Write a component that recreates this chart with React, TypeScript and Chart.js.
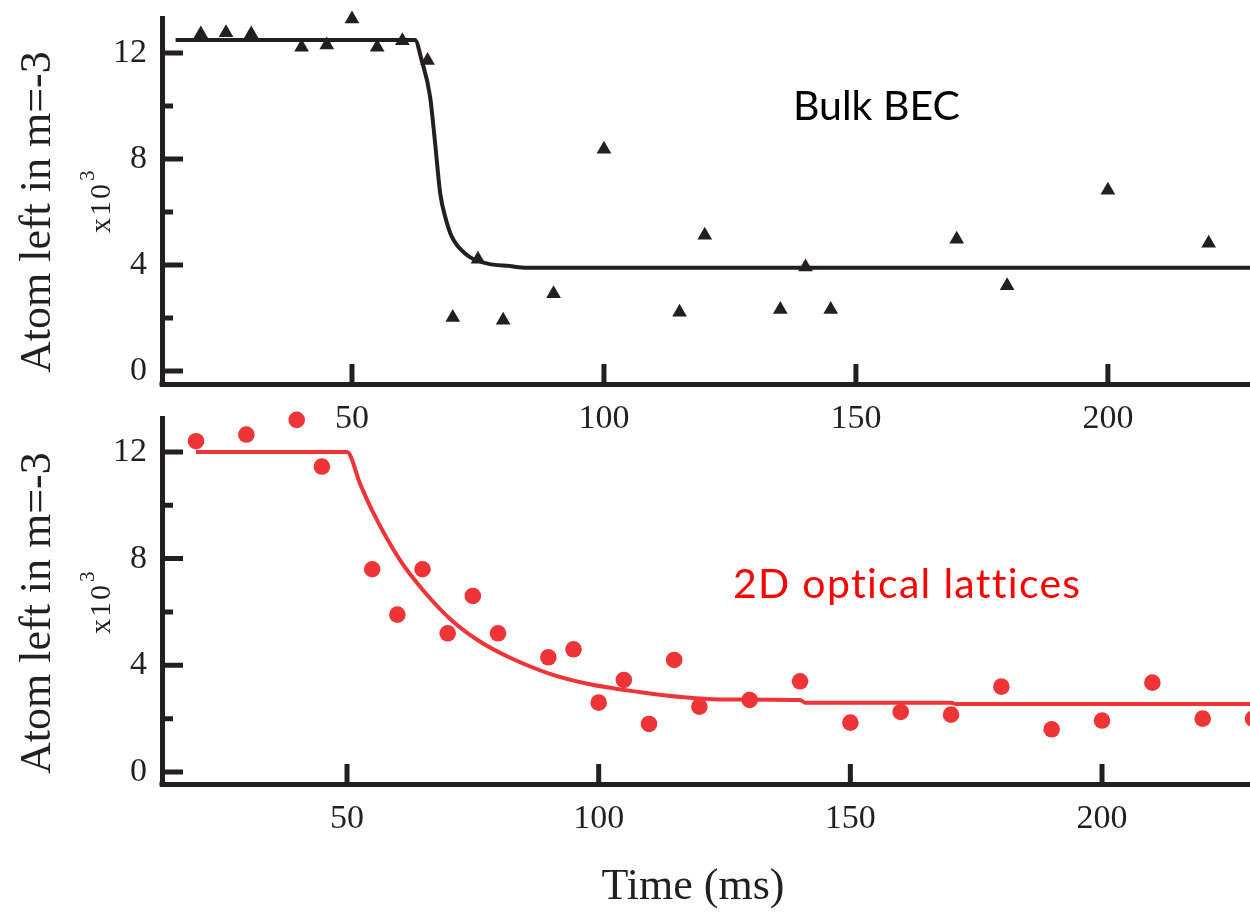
import { useEffect, useRef } from "react";
import { Chart, registerables } from "chart.js";

Chart.register(...registerables);

// ---------------- data ----------------
const xTickValues = [50, 100, 150, 200];
const yMajorTickValues = [0, 4, 8, 12];
const yMinorTickValues = [2, 6, 10];

const bulkTime = [20, 25, 30, 40, 45, 50, 55, 60, 65, 70, 75, 80, 90, 100, 115, 120, 135, 140, 145, 170, 180, 200, 220];
const bulkAtoms = [12.72, 12.76, 12.72, 12.22, 12.3, 13.28, 12.22, 12.46, 11.72, 2.02, 4.22, 1.92, 2.92, 8.37, 2.22, 5.12, 2.32, 3.92, 2.32, 4.97, 3.22, 6.82, 4.82];
const bulkFitTime = [15, 62.5, 63.8, 65.5, 66.5, 67.5, 68.5, 69.8, 72.8, 76.7, 81.3, 84.7, 235];
const bulkFitAtoms = [12.49, 12.49, 11.74, 10.35, 8.59, 6.71, 5.82, 5.07, 4.38, 4.06, 3.96, 3.9, 3.9];

const latticeTime = [20, 30, 40, 45, 55, 60, 65, 70, 75, 80, 90, 95, 100, 105, 110, 115, 120, 130, 140, 150, 160, 170, 180, 190, 200, 210, 220, 230];
const latticeAtoms = [12.4, 12.65, 13.2, 11.45, 7.6, 5.9, 7.6, 5.2, 6.6, 5.2, 4.3, 4.6, 2.6, 3.45, 1.8, 4.2, 2.45, 2.7, 3.4, 1.85, 2.25, 2.15, 3.2, 1.6, 1.93, 3.35, 2.0, 2.0];
const latticeFitTime = [20, 50, 52.6, 55, 60.5, 65.4, 71, 76.3, 82.2, 90, 98, 108, 117, 124, 140, 141, 170, 171, 235];
const latticeFitAtoms = [12, 12, 10.8, 9.8, 7.95, 6.75, 5.65, 4.9, 4.3, 3.7, 3.3, 3.0, 2.8, 2.72, 2.7, 2.6, 2.6, 2.55, 2.55];

// ---------------- style ----------------
const INK = "#231f20";
const RED = "#ee3436";
const SERIF = '"Liberation Serif", "Times New Roman", serif';
const SANS = 'Lato, "Open Sans", sans-serif';

type PanelSpec = {
  top: number;
  height: number;
  padTop: number;
  xAxisHeight: number;
  xMin: number;
  xMax: number;
  yMin: number;
  yMax: number;
  time: number[];
  atoms: number[];
  fitTime: number[];
  fitAtoms: number[];
  color: string;
  pointStyle: string;
  pointRadius: number;
  label: string;
  labelColor: string;
  labelX: number;
  labelY: number;
  labelSpacing: string;
  xTitle?: string;
};

function makeDecor(spec: PanelSpec) {
  return {
    id: "decor",
    beforeDatasetsDraw(chart: any) {
      const { ctx, chartArea, scales } = chart;
      const xs = scales.x;
      const ys = scales.y;
      ctx.save();
      ctx.strokeStyle = INK;
      ctx.lineWidth = 5;
      ctx.lineCap = "butt";
      ctx.beginPath();
      yMajorTickValues.forEach((v) => {
        const py = ys.getPixelForValue(v);
        ctx.moveTo(chartArea.left, py);
        ctx.lineTo(chartArea.left + 21, py);
      });
      yMinorTickValues.forEach((v) => {
        const py = ys.getPixelForValue(v);
        ctx.moveTo(chartArea.left, py);
        ctx.lineTo(chartArea.left + 11, py);
      });
      xTickValues.forEach((v) => {
        const px = xs.getPixelForValue(v);
        ctx.moveTo(px, chartArea.bottom);
        ctx.lineTo(px, chartArea.bottom - 20);
      });
      ctx.stroke();
      ctx.fillStyle = INK;
      ctx.fillRect(chartArea.left - 2.5, chartArea.bottom - 2.5, 5, 5);
      ctx.restore();
    },
    afterDraw(chart: any) {
      const { ctx, scales } = chart;
      const ys = scales.y;
      const zeroY = ys.getPixelForValue(0);
      ctx.save();
      ctx.fillStyle = INK;
      // main y title
      ctx.save();
      ctx.translate(50, zeroY + 2);
      ctx.rotate(-Math.PI / 2);
      ctx.font = `44px ${SERIF}`;
      ctx.textAlign = "left";
      ctx.textBaseline = "alphabetic";
      ctx.fillText("Atom left in m=-3", 0, 0);
      ctx.restore();
      // x10^3
      ctx.save();
      ctx.translate(110, zeroY - 138);
      ctx.rotate(-Math.PI / 2);
      ctx.font = `30px ${SERIF}`;
      ctx.textAlign = "left";
      ctx.textBaseline = "alphabetic";
      (ctx as any).letterSpacing = "2px";
      ctx.fillText("x10", 0, 0);
      const w = ctx.measureText("x10").width;
      ctx.font = `21px ${SERIF}`;
      ctx.fillText("3", w + 1, -16);
      ctx.restore();
      // panel label
      ctx.save();
      ctx.font = `41px ${SANS}`;
      ctx.fillStyle = spec.labelColor;
      ctx.textAlign = "left";
      ctx.textBaseline = "alphabetic";
      (ctx as any).letterSpacing = spec.labelSpacing;
      ctx.fillText(spec.label, spec.labelX, spec.labelY - spec.top);
      ctx.restore();
      // x title
      if (spec.xTitle) {
        ctx.fillStyle = INK;
        ctx.font = `44px ${SERIF}`;
        ctx.textAlign = "center";
        ctx.fillText(spec.xTitle, 693, 899 - spec.top);
      }
      ctx.restore();
    },
  };
}

function Panel({ spec }: { spec: PanelSpec }) {
  const ref = useRef<HTMLCanvasElement | null>(null);
  useEffect(() => {
    if (!ref.current) return;
    const chart = new Chart(ref.current, {
      type: "scatter",
      data: {
        datasets: [
          {
            label: "data",
            data: spec.time.map((t, i) => ({ x: t, y: spec.atoms[i] })),
            pointStyle: spec.pointStyle as any,
            pointRadius: spec.pointRadius,
            pointBackgroundColor: spec.color,
            pointBorderWidth: 0,
            borderWidth: 0,
            showLine: false,
            clip: false as any,
            order: 0,
          },
          {
            label: "fit",
            data: spec.fitTime.map((t, i) => ({ x: t, y: spec.fitAtoms[i] })),
            showLine: true,
            pointRadius: 0,
            borderColor: spec.color,
            borderWidth: 4,
            cubicInterpolationMode: "monotone",
            fill: false,
            order: 1,
          },
        ],
      },
      options: {
        animation: false,
        responsive: false,
        devicePixelRatio: 1,
        events: [],
        layout: { autoPadding: false, padding: { top: spec.padTop, left: 0, right: 0, bottom: 0 } },
        plugins: { legend: { display: false }, tooltip: { enabled: false } },
        scales: {
          x: {
            type: "linear",
            min: spec.xMin,
            max: spec.xMax,
            afterBuildTicks: (s: any) => {
              s.ticks = xTickValues.map((v) => ({ value: v }));
            },
            afterFit: (s: any) => {
              s.height = spec.xAxisHeight;
              s.paddingLeft = 0;
              s.paddingRight = 0;
              s.paddingTop = 0;
              s.paddingBottom = 0;
            },
            grid: { display: false, drawTicks: false },
            border: { display: true, color: INK, width: 5 },
            ticks: {
              font: { family: SERIF, size: 34 },
              color: INK,
              padding: 15,
              maxRotation: 0,
              autoSkip: false,
            },
          },
          y: {
            type: "linear",
            min: spec.yMin,
            max: spec.yMax,
            afterBuildTicks: (s: any) => {
              s.ticks = yMajorTickValues.map((v) => ({ value: v }));
            },
            afterFit: (s: any) => {
              s.width = 162;
              s.paddingLeft = 0;
              s.paddingRight = 0;
              s.paddingTop = 0;
              s.paddingBottom = 0;
            },
            grid: { display: false, drawTicks: false },
            border: { display: true, color: INK, width: 5 },
            ticks: {
              font: { family: SERIF, size: 34 },
              color: INK,
              padding: 15,
              autoSkip: false,
            },
          },
        },
      },
      plugins: [makeDecor(spec)],
    });
    return () => chart.destroy();
  }, [spec]);
  return (
    <canvas
      ref={ref}
      width={1250}
      height={spec.height}
      style={{ position: "absolute", left: 0, top: spec.top, width: 1250, height: spec.height, display: "block" }}
    />
  );
}

const topSpec: PanelSpec = {
  top: 0,
  height: 450,
  padTop: 18,
  xAxisHeight: 66,
  xMin: 12.3,
  xMax: 228.2,
  yMin: -0.49,
  yMax: 13.32,
  time: bulkTime,
  atoms: bulkAtoms,
  fitTime: bulkFitTime,
  fitAtoms: bulkFitAtoms,
  color: INK,
  pointStyle: "triangle",
  pointRadius: 8.5,
  label: "Bulk BEC",
  labelColor: "#000000",
  labelX: 793,
  labelY: 120,
  labelSpacing: "0px",
};

const bottomSpec: PanelSpec = {
  top: 395,
  height: 520,
  padTop: 23,
  xAxisHeight: 131,
  xMin: 13.24,
  xMax: 229.4,
  yMin: -0.45,
  yMax: 13.27,
  time: latticeTime,
  atoms: latticeAtoms,
  fitTime: latticeFitTime,
  fitAtoms: latticeFitAtoms,
  color: RED,
  pointStyle: "circle",
  pointRadius: 8.3,
  label: "2D optical lattices",
  labelColor: "#ff0000",
  labelX: 733,
  labelY: 598,
  labelSpacing: "1.3px",
  xTitle: "Time (ms)",
};

export default function App() {
  return (
    <div style={{ position: "absolute", left: 0, top: 0, width: 1250, height: 915, background: "#ffffff", overflow: "hidden" }}>
      <Panel spec={topSpec} />
      <Panel spec={bottomSpec} />
    </div>
  );
}
